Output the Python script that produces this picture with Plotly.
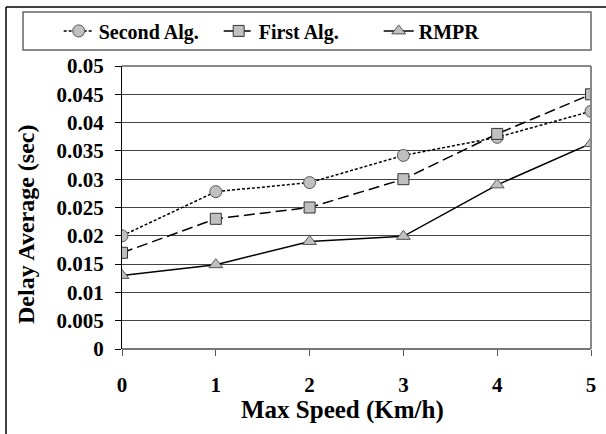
import plotly.graph_objects as go

speeds = [0, 1, 2, 3, 4, 5]
second_alg = [0.020, 0.0278, 0.0294, 0.0342, 0.0374, 0.0420]
first_alg = [0.017, 0.023, 0.025, 0.030, 0.038, 0.045]
rmpr = [0.013, 0.0149, 0.019, 0.0199, 0.029, 0.0363]
y_ticks = [0, 0.005, 0.01, 0.015, 0.02, 0.025, 0.03, 0.035, 0.04, 0.045, 0.05]
y_tick_text = ["0", "0.005", "0.01", "0.015", "0.02", "0.025", "0.03", "0.035", "0.04", "0.045", "0.05"]
x_title = "Max Speed (Km/h)"
y_title = "Delay Average (sec)"

FONT = "Liberation Serif"
MFILL = "#c0c0c0"
MLINE = "#555555"

fig = go.Figure()
fig.add_trace(go.Scatter(x=speeds, y=second_alg, name="Second Alg.", mode="lines+markers",
                         line=dict(color="black", width=1.5, dash="3px,2px"),
                         marker=dict(symbol="circle", size=12, color=MFILL, line=dict(color=MLINE, width=1))))
fig.add_trace(go.Scatter(x=speeds, y=first_alg, name="First Alg.", mode="lines+markers",
                         line=dict(color="black", width=1.5, dash="11px,5px"),
                         marker=dict(symbol="square", size=11, color=MFILL, line=dict(color="#333333", width=1))))
fig.add_trace(go.Scatter(x=speeds, y=rmpr, name="RMPR", mode="lines+markers",
                         line=dict(color="black", width=1.5),
                         marker=dict(symbol="triangle-up", size=12, color=MFILL, line=dict(color=MLINE, width=1))))

fig.update_layout(
    width=606, height=434,
    margin=dict(l=122, r=15, t=66, b=85, autoexpand=False),
    paper_bgcolor="white", plot_bgcolor="white",
    font=dict(family=FONT, color="black"),
    showlegend=True,
    legend=dict(orientation="h", x=-0.135, xanchor="left", y=1.124, yanchor="middle",
                font=dict(family=FONT, size=20, color="black", weight="bold"),
                bgcolor="rgba(0,0,0,0)", entrywidth=115, itemclick=False, itemwidth=30),
    xaxis=dict(range=[0, 5], tickvals=speeds, ticks="outside", ticklen=6, tickcolor="#555",
               showline=False, showgrid=False, zeroline=False, ticklabelstandoff=11,
               tickfont=dict(family=FONT, size=21, color="black", weight="bold")),
    yaxis=dict(range=[0, 0.05], tickvals=y_ticks, ticktext=y_tick_text, ticks="outside", ticklen=6,
               tickcolor="black", showline=True, linecolor="black", linewidth=1,
               showgrid=True, gridcolor="#444444", gridwidth=1, zeroline=False, ticklabelstandoff=7,
               tickfont=dict(family=FONT, size=21, color="black", weight="bold")),
    annotations=[
        dict(text=x_title, xref="paper", yref="paper", x=0.471, y=-0.2155, xanchor="center", yanchor="middle",
             showarrow=False, font=dict(family=FONT, size=25, color="black", weight="bold")),
        dict(text=y_title, xref="paper", yref="paper", x=-0.2047, y=0.4417, xanchor="center", yanchor="middle",
             textangle=-90, showarrow=False, font=dict(family=FONT, size=24, color="black", weight="bold")),
    ],
)

# plot area frame (bottom, top and right in gray)
fig.add_shape(type="line", xref="paper", yref="paper", x0=0, x1=1, y0=0, y1=0, line=dict(color="#777", width=2))
fig.add_shape(type="line", xref="paper", yref="paper", x0=1, x1=1, y0=0, y1=1, line=dict(color="#888", width=2))
fig.add_shape(type="line", xref="paper", yref="paper", x0=0, x1=1, y0=1, y1=1, line=dict(color="#888", width=2))
# legend box
fig.add_shape(type="rect", xref="paper", yref="paper", x0=-0.211, x1=1.0, y0=1.0565, y1=1.191,
              line=dict(color="#666", width=1.5))
# outer partial frame
fig.add_shape(type="line", xref="paper", yref="paper", x0=-0.2473, x1=1.04, y0=1.2085, y1=1.2085,
              line=dict(color="black", width=1.5))
fig.add_shape(type="line", xref="paper", yref="paper", x0=-0.2473, x1=-0.2473, y0=-0.31, y1=1.2085,
              line=dict(color="black", width=1.5))

fig.write_html("out.html")
